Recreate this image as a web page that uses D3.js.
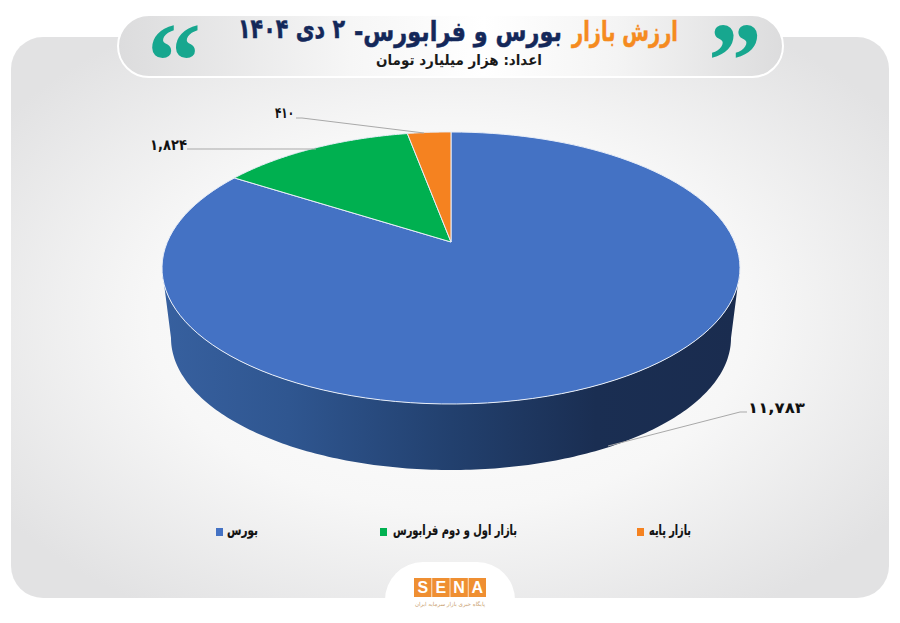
<!DOCTYPE html>
<html><head><meta charset="utf-8">
<script src="https://cdn.jsdelivr.net/npm/d3@7/dist/d3.min.js"></script>
<style>html,body{margin:0;background:#fff}svg{display:block}text{font-family:"DejaVu Sans",sans-serif}</style>
</head><body><div id="c"></div>
<script>
const categories=["بورس","بازار اول و دوم فرابورس","بازار پایه"];
const values=[11783,1824,410];
const colors=["#4472c4","#00b050","#f58220"];
const titleAccent="ارزش بازار";
const titleMain="بورس و فرابورس-";
const titleDate="۲ دی ۱۴۰۴";
const subtitle="اعداد: هزار میلیارد تومان";

const W=900,H=623;
const svg=d3.select("#c").append("svg").attr("width",W).attr("height",H);
const defs=svg.append("defs");
const rg=defs.append("radialGradient").attr("id","bg").attr("cx","50%").attr("cy","50%").attr("r","62%");
rg.append("stop").attr("offset","0%").attr("stop-color","#ffffff");
rg.append("stop").attr("offset","55%").attr("stop-color","#f7f7f7");
rg.append("stop").attr("offset","100%").attr("stop-color","#e2e2e3");
const hg=defs.append("linearGradient").attr("id","hd");
[[0,"#dcdcdd"],[.35,"#f6f6f6"],[.55,"#ffffff"],[.75,"#f4f4f4"],[1,"#dcdcdd"]].forEach(s=>hg.append("stop").attr("offset",s[0]).attr("stop-color",s[1]));
const wg=defs.append("linearGradient").attr("id","wall").attr("gradientUnits","userSpaceOnUse").attr("x1",162).attr("x2",740).attr("y1",0).attr("y2",0);
[[0,"#37609f"],[.22,"#2f5690"],[.5,"#22406e"],[.75,"#1a2e52"],[1,"#1a2c4f"]].forEach(s=>wg.append("stop").attr("offset",s[0]).attr("stop-color",s[1]));

svg.append("rect").attr("x",11).attr("y",37).attr("width",878).attr("height",561).attr("rx",32).attr("fill","url(#bg)");

// header
svg.append("rect").attr("x",118).attr("y",15).attr("width",665).attr("height",62).attr("rx",31).attr("fill","url(#hd)").attr("stroke","#fff").attr("stroke-width",2);
[[174,"“"],[735,"”"]].forEach(q=>svg.append("text").attr("x",q[0]).attr("y",97).attr("text-anchor","middle").attr("font-size",108).attr("font-weight",700).attr("fill","#17a78f").style("font-family","'Liberation Serif'").text(q[1]));
[[titleAccent,678,106,41,"#f58b1f"],[titleMain,562,208,41,"#14285a"],[titleDate,345,107,38,"#14285a"]].forEach(t=>
 svg.append("text").attr("x",t[1]).attr("y",t[3]).attr("direction","rtl").attr("text-anchor","start").attr("font-size",27).attr("font-weight",700)
  .attr("textLength",t[2]).attr("lengthAdjust","spacingAndGlyphs").attr("fill",t[4]).attr("stroke",t[4]).attr("stroke-width",.5).text(t[0]));
svg.append("text").attr("x",542).attr("y",65).attr("direction","rtl").attr("text-anchor","start").attr("font-size",14.5).attr("font-weight",700)
  .attr("textLength",166).attr("lengthAdjust","spacingAndGlyphs").attr("fill","#1a1a1a").text(subtitle);

// projective pie: disc mapped to the top ellipse, centre pushed toward the back
const topE={cx:451,cy:268,rx:289,ry:136}, botE={cx:451,cy:338,rx:280,ry:132};
const tilt=-26/136, k=Math.sqrt(1-tilt*tilt);
function proj(r,a){const u=r*Math.sin(a),v=-r*Math.cos(a),d=1+tilt*v;
  return [topE.cx+topE.rx*u*k/d, topE.cy+topE.ry*(v+tilt)/d];}
const pie=d3.pie().sort(null).value(d=>d);
const arcs=pie(values);
const line=d3.line();
arcs.forEach((a,i)=>{
  const pts=[proj(0,0)].concat(d3.range(0,121).map(j=>proj(1,a.startAngle+(a.endAngle-a.startAngle)*j/120)));
  a.path=line(pts)+"Z";
});
// wall
const wallPts=d3.range(0,181).map(d=>{const t=d*Math.PI/180;return [topE.cx+topE.rx*Math.cos(t),topE.cy+topE.ry*Math.sin(t)]})
 .concat(d3.range(180,-1,-1).map(d=>{const t=d*Math.PI/180;return [botE.cx+botE.rx*Math.cos(t),botE.cy+botE.ry*Math.sin(t)]}));
svg.append("path").attr("d",line(wallPts)+"Z").attr("fill","url(#wall)");
svg.selectAll("path.slice").data(arcs).join("path").attr("class","slice").attr("d",d=>d.path)
  .attr("fill",(d,i)=>colors[i]).attr("stroke","#e8eef8").attr("stroke-width",1).attr("stroke-linejoin","round");

// labels
const fa=n=>d3.format(",")(n).replace(/\d/g,d=>"۰۱۲۳۴۵۶۷۸۹"[d]);
const leaders=[[[747,412],[740,412],[608,446]],[[187,149],[316,149]],[[296,118],[302,118],[424,133]]];
const labelPos=[[748,413,57],[150,150,37],[275,118,19]];
svg.selectAll("path.lead").data(leaders).join("path").attr("class","lead").attr("d",d=>line(d)).attr("fill","none").attr("stroke","#a9a9a9").attr("stroke-width",1);
svg.selectAll("text.val").data(values).join("text").attr("class","val")
  .attr("x",(d,i)=>labelPos[i][0]).attr("y",(d,i)=>labelPos[i][1]).attr("textLength",(d,i)=>labelPos[i][2]).attr("lengthAdjust","spacingAndGlyphs")
  .attr("font-size",15).attr("font-weight",700).attr("fill","#111").text(fa);

// legend
const legX=[216,380,637], legRight=[258,517,691], legLen=[31,124,42], legY=532;
const lg=svg.selectAll("g.leg").data(categories).join("g").attr("class","leg");
lg.append("rect").attr("x",(d,i)=>legX[i]).attr("y",legY-4).attr("width",7).attr("height",8).attr("fill",(d,i)=>colors[i]);
lg.append("text").attr("x",(d,i)=>legRight[i]).attr("y",legY+3).attr("direction","rtl").attr("text-anchor","start").attr("font-size",14).attr("font-weight",700)
  .attr("textLength",(d,i)=>legLen[i]).attr("lengthAdjust","spacingAndGlyphs").attr("fill","#111").attr("stroke","#111").attr("stroke-width",.2).text(d=>d);

// logo
svg.append("rect").attr("x",385).attr("y",562).attr("width",130).attr("height",80).attr("rx",38).attr("fill","#fff");
const logo=["S","E","N","A"], lx=d3.scaleBand().domain(logo).range([414,486]).paddingInner(.04);
svg.selectAll("rect.lg").data(logo).join("rect").attr("class","lg").attr("x",d=>lx(d)).attr("y",578).attr("width",lx.bandwidth()).attr("height",19).attr("fill","#ef8f32");
svg.selectAll("text.lg").data(logo).join("text").attr("class","lg").attr("x",d=>lx(d)+lx.bandwidth()/2).attr("y",593).attr("text-anchor","middle").attr("font-size",16).attr("font-weight",700).attr("fill","#fff").style("font-family","'Liberation Sans'").text(d=>d);
svg.append("text").attr("x",450).attr("y",606).attr("text-anchor","middle").attr("direction","rtl").attr("font-size",5.5).attr("fill","#c9a06e").text("پایگاه خبری بازار سرمایه ایران");
</script></body></html>
